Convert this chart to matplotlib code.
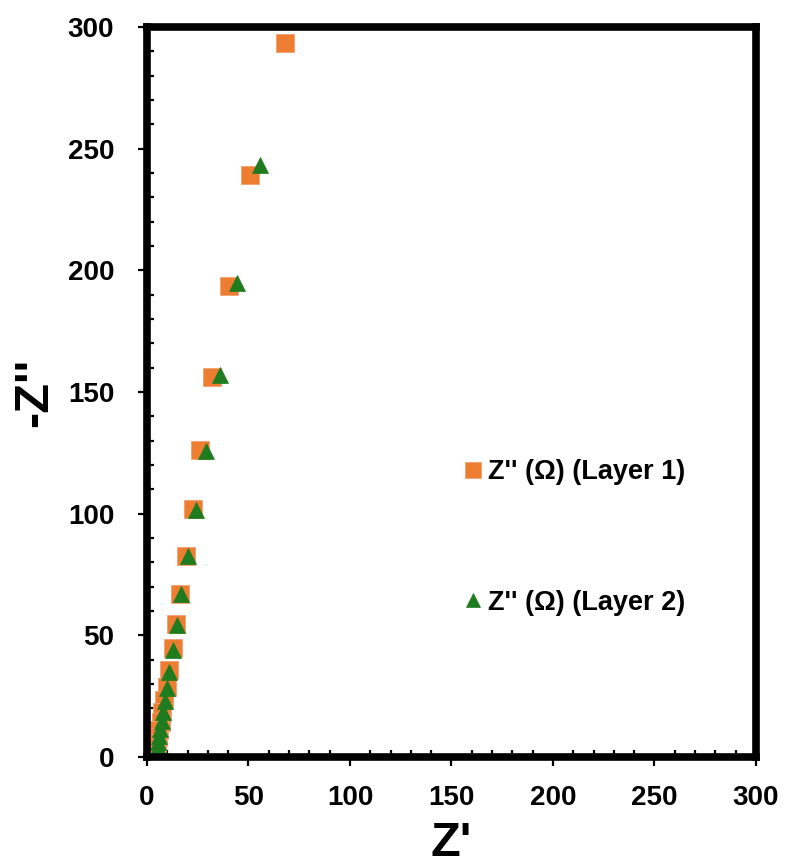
import matplotlib
matplotlib.use("Agg")
import matplotlib.pyplot as plt
from matplotlib.ticker import MultipleLocator

plt.rcParams['font.family'] = ['Liberation Sans', 'DejaVu Sans']
plt.rcParams['font.weight'] = 'bold'

# Nyquist data: real part Z' and negative imaginary part -Z'' (ohm)
z_real_layer1 = [68.0, 50.7, 40.4, 32.0, 26.1, 22.7, 19.2, 16.3, 14.3, 12.8, 10.8,
                 9.9, 8.4, 7.4, 6.7, 5.9, 5.4, 4.9, 4.4, 3.9, 3.4]
z_imag_layer1 = [293.5, 239.2, 193.6, 156.2, 126.2, 101.9, 82.6, 67.0, 54.7, 44.8, 35.8,
                 28.8, 23.4, 18.5, 14.4, 11.1, 8.2, 5.8, 3.7, 2.1, 0.8]

z_real_layer2 = [55.7, 44.3, 36.0, 29.1, 24.1, 20.2, 16.7, 14.8, 12.8, 10.8,
                 9.8, 8.8, 7.9, 7.2, 6.6, 6.1, 5.6, 5.2, 4.8, 4.4]
z_imag_layer2 = [243.3, 194.8, 157.0, 125.8, 101.5, 82.6, 67.0, 54.3, 44.0, 35.0,
                 28.5, 23.0, 18.5, 14.6, 11.3, 8.5, 6.0, 3.9, 2.2, 0.9]

label_layer1 = "Z'' (\u03a9) (Layer 1)"
label_layer2 = "Z'' (\u03a9) (Layer 2)"

fig = plt.figure(figsize=(7.88, 8.68), dpi=100)
ax = fig.add_axes([0.1865, 0.1279, 0.9594 - 0.1865, 0.9689 - 0.1279])

ax.plot(z_real_layer1, z_imag_layer1, linestyle='none', marker='s', markersize=13,
        color='#ED7D31', markeredgecolor='#F4A070', markeredgewidth=0.6, label=label_layer1)
ax.plot(z_real_layer2, z_imag_layer2, linestyle='none', marker='^', markersize=12,
        color='#1E7B1E', markeredgecolor='#1E7B1E', markeredgewidth=0.5, label=label_layer2)

ax.set_xlim(0, 300)
ax.set_ylim(0, 300)

for side in ['left', 'right', 'top', 'bottom']:
    ax.spines[side].set_linewidth(5.5)
    ax.spines[side].set_color('black')

ax.xaxis.set_major_locator(MultipleLocator(50))
ax.yaxis.set_major_locator(MultipleLocator(50))
ax.xaxis.set_minor_locator(MultipleLocator(10))
ax.yaxis.set_minor_locator(MultipleLocator(10))
ax.tick_params(which='major', direction='out', length=6.5, width=1.6, labelsize=20)
ax.tick_params(which='minor', direction='in', length=5, width=1.6)
ax.tick_params(axis='x', which='major', pad=14)
ax.tick_params(axis='y', which='major', pad=17)
for lbl in ax.get_xticklabels() + ax.get_yticklabels():
    lbl.set_fontweight('bold')

ax.set_xlabel("Z'", fontsize=35, fontweight='bold', labelpad=7)
ax.set_ylabel("-Z''", fontsize=35, fontweight='bold', labelpad=8)

leg = ax.legend(loc='upper left', bbox_to_anchor=(461 / 788, 1 - 459 / 868),
                bbox_transform=fig.transFigure, frameon=False, fontsize=19.5,
                handlelength=0.9, handletextpad=0.1, labelspacing=3.87,
                borderpad=0, borderaxespad=0, markerscale=0.85)
for t in leg.get_texts():
    t.set_fontweight('bold')

fig.savefig('out.png', dpi=100)
